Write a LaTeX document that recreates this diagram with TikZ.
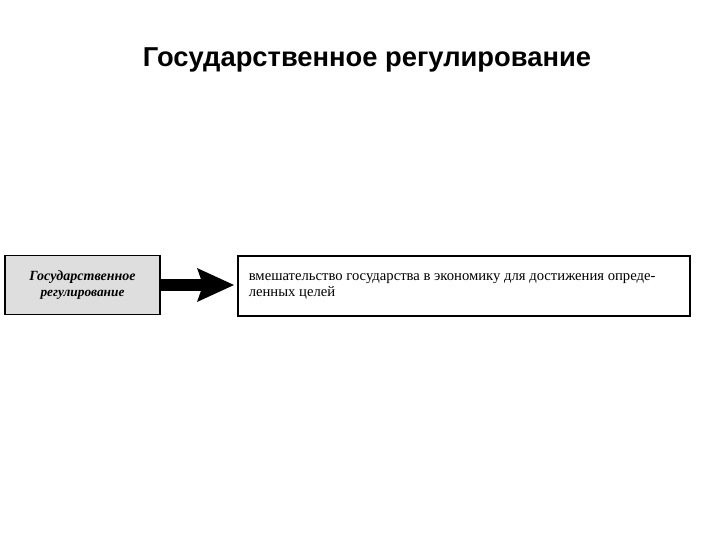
\documentclass[tikz,border=0pt]{standalone}
\usepackage{fontspec}
\setmainfont{Liberation Serif}
\newfontfamily\titlefont{Liberation Sans}
\begin{document}
\begin{tikzpicture}[x=0.75pt,y=-0.75pt,
  boxstyle/.style={draw=black,line width=1.2pt,inner sep=0pt}]
\useasboundingbox (0,0) rectangle (720,540);
\node (title) at (367,60) {\titlefont\bfseries\fontsize{20.5}{24}\selectfont Государственное регулирование};
\node[boxstyle,fill=black!13,minimum width=155*0.75pt,minimum height=59*0.75pt,align=center] (left) at (82.5,285)
  {\fontsize{10.5}{12.5}\selectfont\bfseries\itshape Государственное\\ \bfseries\itshape регулирование};
\node[boxstyle,fill=white,minimum width=452*0.75pt,minimum height=60*0.75pt,anchor=west,align=justify,text width=430*0.75pt] (right) at (237,286)
  {\fontsize{11}{13.5}\selectfont вмешательство государства в экономику для достижения опреде-\\ленных целей};
\draw[line width=9pt] (left.east) -- ++(45,0) coordinate (ab);
\fill (197,268) -- (234,285) -- (197,302) -- (203,285) -- cycle;
\end{tikzpicture}
\end{document}
